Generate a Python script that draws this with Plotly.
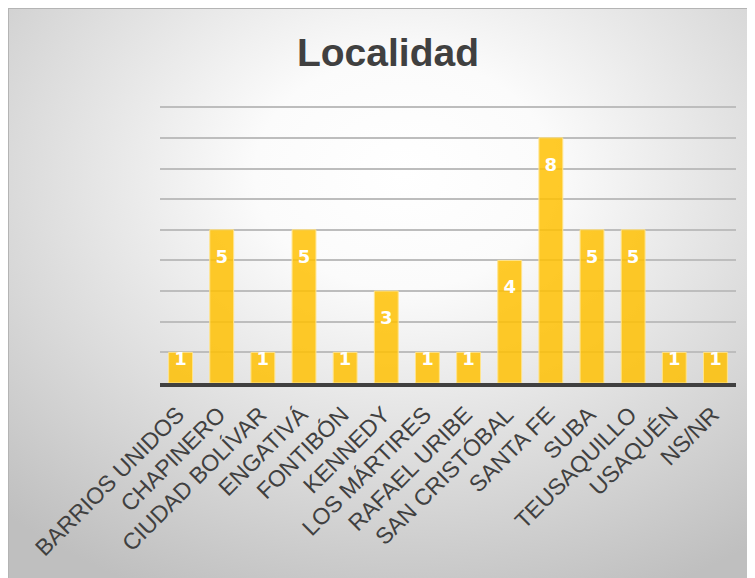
import base64
import numpy as np
import plotly.graph_objects as go

categories = ["BARRIOS UNIDOS", "CHAPINERO", "CIUDAD BOLÍVAR", "ENGATIVÁ", "FONTIBÓN",
              "KENNEDY", "LOS MÁRTIRES", "RAFAEL URIBE", "SAN CRISTÓBAL", "SANTA FE",
              "SUBA", "TEUSAQUILLO", "USAQUÉN", "NS/NR"]
values = [1, 5, 1, 5, 1, 3, 1, 1, 4, 8, 5, 5, 1, 1]
title_text = "Localidad"

# page body has an 8px margin; figure coordinates = screen - 8
W, H = 755, 578
L, T = 152, 98
pw = 576
R = W - L - pw
YMAX = 9.04
ph = round(276 * YMAX / 9)
B = H - T - ph

def px_to_paper_x(px):
    return (px - L) / pw

def py_to_paper_y(py):
    return (T + ph - py) / ph

svg = (
    "<svg xmlns='http://www.w3.org/2000/svg' width='760' height='590' viewBox='0 0 760 590' preserveAspectRatio='none'>"
    "<defs><radialGradient id='g' cx='0.52' cy='0.28' r='0.78'>"
    "<stop offset='0' stop-color='#ffffff'/>"
    "<stop offset='0.25' stop-color='#fbfbfb'/>"
    "<stop offset='1' stop-color='#bfbfbf'/>"
    "</radialGradient></defs>"
    "<rect x='0' y='0' width='760' height='590' fill='url(#g)'/>"
    "</svg>"
)
svg_uri = "data:image/svg+xml;base64," + base64.b64encode(svg.encode()).decode()

vals = np.array(values, dtype=float)
label_y = np.maximum(vals - 0.93, 0.75)

fig = go.Figure()
fig.add_trace(go.Bar(
    x=categories, y=values,
    marker=dict(color="rgba(255,192,0,0.84)", line=dict(color="rgba(255,228,140,1)", width=1)),
    hoverinfo="x+y",
))
fig.add_trace(go.Scatter(
    x=categories, y=label_y, mode="text", text=[str(v) for v in values],
    textposition="middle center",
    textfont=dict(family="DejaVu Sans", size=18, color="white", weight="bold"),
    hoverinfo="skip", showlegend=False,
))

fig.update_layout(
    width=W, height=H,
    margin=dict(l=L, r=R, t=T, b=B),
    paper_bgcolor="white",
    plot_bgcolor="rgba(0,0,0,0)",
    showlegend=False,
    bargap=0.42,
    title=dict(text=title_text, x=380 / W, xanchor="center", y=1 - 44 / H, yanchor="middle",
               font=dict(family="Liberation Sans", size=39, color="#404040", weight="bold")),
    images=[dict(source=svg_uri, xref="paper", yref="paper",
                 x=px_to_paper_x(0), y=py_to_paper_y(0),
                 sizex=(760) / pw, sizey=(590) / ph,
                 xanchor="left", yanchor="top", sizing="stretch", layer="below")],
    shapes=[
        dict(type="line", xref="paper", yref="paper",
             x0=px_to_paper_x(0.5), x1=px_to_paper_x(0.5), y0=py_to_paper_y(0), y1=py_to_paper_y(600),
             line=dict(color="#b4b4b4", width=1)),
        dict(type="line", xref="paper", yref="paper",
             x0=px_to_paper_x(0), x1=px_to_paper_x(760), y0=py_to_paper_y(0.5), y1=py_to_paper_y(0.5),
             line=dict(color="#b4b4b4", width=1)),
    ],
)
fig.update_xaxes(
    range=[-0.5, len(categories) - 0.5], autorange=False,
    tickangle=-45,
    tickfont=dict(family="Liberation Sans", size=23, color="#404040"),
    showline=True, linecolor="#404040", linewidth=4,
    ticks="", showgrid=False, ticklabelstandoff=5, ticklabelshift=-3,
)
fig.update_yaxes(
    range=[0, YMAX], dtick=1, showticklabels=False, showgrid=True,
    gridcolor="#bdbdbd", gridwidth=1.5, zeroline=False, showline=False,
)

fig.write_html("out.html")
